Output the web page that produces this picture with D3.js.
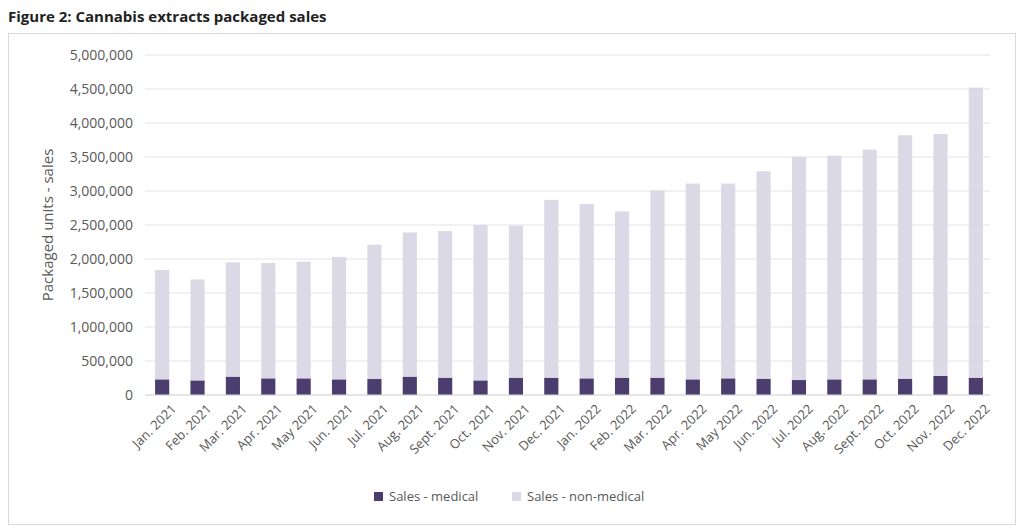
<!DOCTYPE html><html><head><meta charset="utf-8"><script src="https://cdn.jsdelivr.net/npm/d3@7"></script>
<style>body{margin:0;background:#fff;font-family:"Open Sans",sans-serif}</style></head><body><svg id="c" width="1024" height="530"></svg>
<script>
const categories=["Jan. 2021","Feb. 2021","Mar. 2021","Apr. 2021","May 2021","Jun. 2021","Jul. 2021","Aug. 2021","Sept. 2021","Oct. 2021","Nov. 2021","Dec. 2021","Jan. 2022","Feb. 2022","Mar. 2022","Apr. 2022","May 2022","Jun. 2022","Jul. 2022","Aug. 2022","Sept. 2022","Oct. 2022","Nov. 2022","Dec. 2022"];
const medical=[230000,215000,270000,245000,245000,230000,235000,270000,255000,215000,255000,255000,245000,255000,255000,230000,245000,240000,220000,230000,230000,240000,280000,255000];
const nonMedical=[1610000,1485000,1680000,1695000,1715000,1800000,1975000,2120000,2155000,2285000,2235000,2615000,2565000,2445000,2755000,2880000,2865000,3050000,3280000,3290000,3380000,3580000,3560000,4265000];
const yTicks=[0,500000,1000000,1500000,2000000,2500000,3000000,3500000,4000000,4500000,5000000];
const svg=d3.select("#c");
svg.append("text").attr("x",8).attr("y",22).attr("font-weight","bold").attr("font-size",15).attr("fill","#222").text("Figure 2: Cannabis extracts packaged sales");
svg.append("rect").attr("x",8.5).attr("y",33.5).attr("width",1007).attr("height",491).attr("fill","none").attr("stroke","#d9d9d9");
const x=d3.scaleBand().domain(categories).range([148,990]).paddingInner(0.6).paddingOuter(0.2);
const y=d3.scaleLinear().domain([0,5000000]).range([395,55]);
const g=svg.append("g");
yTicks.forEach(t=>g.append("line").attr("x1",145).attr("x2",990).attr("y1",y(t)).attr("y2",y(t)).attr("stroke","#e3e3e3"));
const ya=svg.append("g").attr("transform","translate(145,0)").call(d3.axisLeft(y).tickValues(yTicks).tickFormat(d3.format(",")).tickSize(0).tickPadding(12));
ya.select(".domain").remove();ya.selectAll("text").attr("font-size",14).attr("fill","#595959").attr("font-family","Open Sans");
categories.forEach((c,i)=>{
 g.append("rect").attr("x",x(c)).attr("width",x.bandwidth()).attr("y",y(medical[i])).attr("height",y(0)-y(medical[i])).attr("fill","#4b3d6e");
 g.append("rect").attr("x",x(c)).attr("width",x.bandwidth()).attr("y",y(medical[i]+nonMedical[i])).attr("height",y(medical[i])-y(medical[i]+nonMedical[i])).attr("fill","#dcd9e6");
});
g.append("line").attr("x1",145).attr("x2",990).attr("y1",395).attr("y2",395).attr("stroke","#d9d9d9");
const xa=svg.append("g").attr("transform","translate(0,395)").call(d3.axisBottom(x).tickSize(0).tickPadding(6));
xa.select(".domain").remove();
xa.selectAll("text").attr("font-size",13).attr("fill","#595959").attr("font-family","Open Sans").attr("text-anchor","end").attr("transform","translate(4,4) rotate(-45)");
svg.append("text").attr("transform","translate(53,225) rotate(-90)").attr("text-anchor","middle").attr("font-size",15).attr("fill","#595959").text("Packaged units - sales");
const lg=[["Sales - medical","#4b3d6e",374],["Sales - non-medical","#dcd9e6",512]];
lg.forEach(([t,c,lx])=>{svg.append("rect").attr("x",lx).attr("y",492).attr("width",9).attr("height",9).attr("fill",c);
svg.append("text").attr("x",lx+15).attr("y",501).attr("font-size",13).attr("fill","#595959").text(t);});
</script></body></html>
